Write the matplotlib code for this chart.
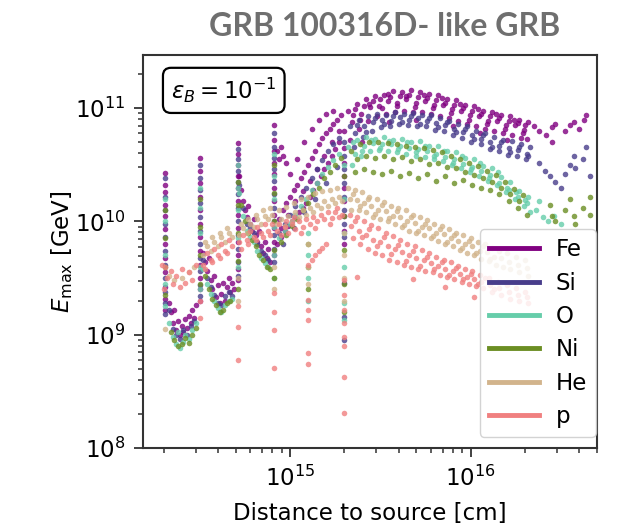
import matplotlib
matplotlib.use("Agg")
import matplotlib.pyplot as plt
from matplotlib.lines import Line2D
import numpy as np

# ---------------- data (log10 distance [cm], log10 Emax [GeV]) ----------------
SPECIES = ["Fe", "Si", "O", "Ni", "He", "p"]
COLORS = ["purple", "darkslateblue", "mediumaquamarine", "olivedrab", "tan", "lightcoral"]

SPIKE_LX = [14.31, 14.50, 14.71, 14.91, 15.10, 15.30]

FE_SPIKES = [
    [10.43, 10.32, 10.26, 10.15, 10.05, 9.93, 9.80, 9.68, 9.55, 9.42, 9.32, 9.22],
    [10.56, 10.45, 10.34, 10.22, 10.10, 9.98, 9.86, 9.74, 9.62, 9.50, 9.40, 9.30],
    [10.69, 10.60, 10.50, 10.40, 10.30, 10.18, 10.06, 9.94, 9.82, 9.70, 9.58, 9.48],
    [10.85, 10.72, 10.62, 10.52, 10.42, 10.30, 10.18, 10.06, 9.94, 9.82, 9.70],
    [],
    [10.80, 10.65, 10.52, 10.40, 10.30, 10.18, 10.05, 9.92, 9.80],
]
FE_PTS = [
    (14.33, 9.28), (14.34, 9.20), (14.35, 9.10), (14.36, 9.22), (14.37, 9.04), (14.38, 9.12),
    (14.39, 9.00), (14.40, 9.08), (14.41, 9.02), (14.42, 9.14), (14.43, 9.06), (14.44, 9.17),
    (14.45, 9.10), (14.46, 9.22), (14.47, 9.15), (14.48, 9.26),
    (14.52, 9.72), (14.53, 9.64), (14.54, 9.56), (14.55, 9.68), (14.56, 9.48), (14.57, 9.40),
    (14.58, 9.52), (14.59, 9.33), (14.60, 9.44), (14.61, 9.28), (14.62, 9.36), (14.63, 9.46),
    (14.64, 9.30), (14.65, 9.42), (14.66, 9.50), (14.67, 9.38), (14.68, 9.46), (14.69, 9.40),
    (14.72, 10.40), (14.73, 10.28), (14.74, 10.18), (14.75, 10.10), (14.76, 10.04), (14.77, 10.14),
    (14.78, 9.98), (14.79, 9.92), (14.80, 10.02), (14.81, 9.88), (14.82, 9.82), (14.83, 9.92),
    (14.84, 9.78), (14.85, 9.72), (14.86, 9.82), (14.87, 9.68), (14.88, 9.76), (14.89, 9.64),
    (14.93, 10.62), (14.94, 10.55), (14.95, 10.66), (14.96, 10.58), (14.98, 10.52),
    (14.93, 9.80), (14.95, 9.86), (14.97, 9.92), (14.99, 9.96), (15.01, 10.00), (15.03, 10.04),
    (15.05, 10.08), (15.07, 10.12), (15.09, 10.16), (15.11, 10.22), (15.13, 10.28), (15.15, 10.34),
    (15.17, 10.40), (15.19, 10.46), (15.21, 10.52), (15.23, 10.58), (15.25, 10.64), (15.27, 10.70),
    (14.94, 10.02), (14.96, 10.10), (14.98, 10.16), (15.00, 10.22), (15.02, 10.28), (15.04, 10.32),
    (15.06, 10.38), (15.08, 10.44), (15.10, 10.50), (15.12, 10.56), (15.14, 10.62), (15.16, 10.68),
    (15.18, 10.74), (15.20, 10.78), (15.22, 10.82), (15.24, 10.86), (15.26, 10.90), (15.28, 10.94),
    (15.00, 10.42), (15.04, 10.55), (15.08, 10.70), (15.12, 10.82), (15.16, 10.90), (15.20, 10.95),
    (15.24, 10.98),
    (14.95, 9.94), (14.99, 10.06), (15.03, 10.18), (15.07, 10.27), (15.11, 10.36), (15.15, 10.46),
    (15.19, 10.58), (15.23, 10.70), (15.27, 10.80),
    (15.32, 10.98), (15.37, 11.04), (15.42, 11.08), (15.47, 11.11), (15.52, 11.12), (15.57, 11.15),
    (15.62, 11.14), (15.67, 11.16), (15.72, 11.14), (15.77, 11.13), (15.82, 11.12), (15.87, 11.08),
    (15.92, 11.07), (15.97, 11.03), (16.02, 11.02), (16.07, 10.98), (16.12, 10.97), (16.17, 10.94),
    (16.22, 10.93), (16.27, 10.90), (16.32, 10.88),
    (15.35, 10.94), (15.41, 11.02), (15.46, 11.06), (15.50, 11.08), (15.555, 11.10), (15.61, 11.11),
    (15.66, 11.12), (15.71, 11.10), (15.76, 11.09), (15.81, 11.07), (15.86, 11.05), (15.91, 11.03),
    (15.96, 11.00), (16.01, 10.98), (16.06, 10.95), (16.11, 10.93), (16.16, 10.91), (16.21, 10.89),
    (16.26, 10.87), (16.30, 10.85),
    (15.345, 10.88), (15.395, 10.95), (15.445, 11.01), (15.495, 11.02), (15.545, 11.06), (15.595, 11.05),
    (15.645, 11.08), (15.695, 11.05), (15.745, 11.06), (15.795, 11.03), (15.845, 11.03), (15.895, 10.99),
    (15.945, 10.98), (15.995, 10.94), (16.045, 10.93), (16.095, 10.89), (16.145, 10.89), (16.195, 10.85),
    (16.245, 10.85), (16.295, 10.81),
    (15.33, 10.72), (15.38, 10.82), (15.43, 10.89), (15.48, 10.93), (15.53, 10.95), (15.58, 10.97),
    (15.63, 10.98), (15.68, 10.97), (15.73, 10.97), (15.78, 10.95), (15.83, 10.93), (15.88, 10.91),
    (15.93, 10.89), (15.98, 10.86), (16.03, 10.84), (16.08, 10.82), (16.13, 10.80), (16.18, 10.78),
    (16.23, 10.76), (16.28, 10.74), (16.31, 10.73),
    (15.36, 10.99), (15.39, 10.90), (15.44, 11.04), (15.51, 11.00), (15.54, 11.13), (15.59, 11.02),
    (15.64, 11.11), (15.69, 11.01), (15.74, 11.12), (15.79, 11.00), (15.84, 11.09), (15.89, 10.96),
    (15.94, 11.04), (15.99, 10.90), (16.04, 10.99), (16.09, 10.86), (16.14, 10.95), (16.19, 10.82),
    (16.24, 10.90), (16.29, 10.78),
    (15.40, 10.70), (15.55, 10.88), (15.70, 10.90), (15.90, 10.84), (16.05, 10.78), (16.20, 10.72),
    (16.35, 10.84), (16.38, 10.80), (16.42, 10.76), (16.45, 10.83), (16.47, 10.86), (16.52, 10.80),
    (16.55, 10.85), (16.57, 10.88), (16.60, 10.82), (16.63, 10.90), (16.64, 10.94), (16.45, 10.70),
]

SI_SPIKES = [
    [10.38, 10.22, 10.10, 9.98, 9.86, 9.74, 9.62, 9.50, 9.38, 9.28, 9.18],
    [10.50, 10.38, 10.28, 10.16, 10.04, 9.92, 9.80, 9.68, 9.56, 9.44, 9.34],
    [10.64, 10.55, 10.45, 10.35, 10.24, 10.12, 10.00, 9.88, 9.76, 9.64, 9.52],
    [10.78, 10.66, 10.56, 10.46, 10.36, 10.24, 10.12, 10.00, 9.88, 9.76, 9.64],
    [],
    [10.70, 10.58, 10.46, 10.34, 10.22, 10.10, 9.98, 9.86, 9.46, 9.16, 8.95],
]
SI_PTS = [
    (14.33, 9.22), (14.35, 9.05), (14.37, 9.00), (14.39, 8.96), (14.41, 9.04), (14.43, 9.00),
    (14.45, 9.08), (14.47, 9.12),
    (14.52, 9.66), (14.54, 9.50), (14.56, 9.42), (14.58, 9.35), (14.60, 9.28), (14.62, 9.26),
    (14.64, 9.34), (14.66, 9.38), (14.68, 9.34),
    (14.72, 10.32), (14.74, 10.12), (14.76, 9.98), (14.78, 9.94), (14.80, 9.90), (14.82, 9.80),
    (14.84, 9.74), (14.86, 9.70), (14.88, 9.66),
    (14.94, 9.90), (14.97, 9.98), (15.00, 10.06), (15.03, 10.14), (15.06, 10.22), (15.09, 10.30),
    (15.12, 10.38), (15.15, 10.46), (15.18, 10.54), (15.21, 10.62), (15.24, 10.68), (15.27, 10.74),
    (14.96, 9.80), (15.02, 9.94), (15.08, 10.08), (15.14, 10.20), (15.20, 10.34), (15.26, 10.48),
    (15.33, 10.84), (15.38, 10.90), (15.43, 10.93), (15.48, 10.95), (15.53, 10.94), (15.58, 10.97),
    (15.63, 10.95), (15.68, 10.96), (15.73, 10.94), (15.78, 10.94), (15.83, 10.91), (15.88, 10.89),
    (15.93, 10.86), (15.98, 10.84), (16.03, 10.80), (16.08, 10.78), (16.13, 10.75), (16.18, 10.72),
    (16.23, 10.71), (16.28, 10.68), (16.33, 10.66),
    (15.36, 10.78), (15.41, 10.84), (15.46, 10.88), (15.51, 10.90), (15.56, 10.89), (15.61, 10.92),
    (15.66, 10.90), (15.71, 10.91), (15.76, 10.89), (15.81, 10.87), (15.86, 10.85), (15.91, 10.82),
    (15.96, 10.79), (16.01, 10.76), (16.06, 10.73), (16.11, 10.70), (16.16, 10.67), (16.21, 10.65),
    (16.26, 10.63), (16.31, 10.60),
    (15.355, 10.66), (15.405, 10.75), (15.455, 10.80), (15.505, 10.83), (15.555, 10.84), (15.605, 10.86),
    (15.655, 10.85), (15.705, 10.84), (15.755, 10.84), (15.805, 10.81), (15.855, 10.80), (15.905, 10.76),
    (15.955, 10.74), (16.005, 10.70), (16.055, 10.68), (16.105, 10.64), (16.155, 10.62), (16.205, 10.59),
    (16.255, 10.58), (16.305, 10.55),
    (15.37, 10.85), (15.42, 10.79), (15.47, 10.91), (15.52, 10.86), (15.57, 10.93), (15.62, 10.88),
    (15.67, 10.93), (15.72, 10.86), (15.77, 10.91), (15.82, 10.83), (15.87, 10.88), (15.92, 10.79),
    (15.97, 10.82), (16.02, 10.73), (16.07, 10.76), (16.12, 10.66), (16.17, 10.70), (16.22, 10.61),
    (16.27, 10.66), (16.32, 10.58),
    (16.38, 10.52), (16.41, 10.45), (16.44, 10.40), (16.47, 10.35), (16.50, 10.30), (16.52, 10.42),
    (16.55, 10.50), (16.57, 10.58), (16.58, 10.47), (16.62, 10.55), (16.64, 10.66), (16.66, 10.40),
]

O_SPIKES = [
    [10.20, 10.00, 9.70, 9.45, 9.25],
    [10.30, 10.12, 9.90, 9.60, 9.40],
    [10.50, 10.30, 10.10, 9.85, 9.60],
    [10.60, 10.40, 10.20, 9.95, 9.70, 9.50],
    [9.90, 9.70, 9.50, 9.30],
    [10.50, 10.20, 9.90, 9.60, 9.28, 9.13],
]
O_PTS = [
    (14.33, 9.10), (14.35, 8.98), (14.37, 8.92), (14.38, 9.02), (14.39, 8.88), (14.41, 8.94),
    (14.42, 9.00), (14.44, 8.96), (14.46, 9.04), (14.48, 9.10),
    (14.52, 9.58), (14.54, 9.45), (14.56, 9.36), (14.58, 9.30), (14.60, 9.24), (14.62, 9.20),
    (14.64, 9.26), (14.66, 9.30), (14.68, 9.32),
    (14.72, 10.25), (14.74, 10.05), (14.76, 9.92), (14.78, 9.86), (14.80, 9.82), (14.82, 9.74),
    (14.84, 9.68), (14.86, 9.63), (14.88, 9.60),
    (14.94, 9.85), (14.97, 9.92), (15.00, 9.98), (15.03, 10.06), (15.06, 10.14), (15.09, 10.20),
    (15.12, 10.28), (15.15, 10.34), (15.18, 10.42), (15.21, 10.48), (15.24, 10.54), (15.27, 10.60),
    (15.32, 10.66), (15.37, 10.72), (15.42, 10.75), (15.47, 10.73), (15.52, 10.75), (15.57, 10.72),
    (15.62, 10.73), (15.67, 10.70), (15.72, 10.71), (15.77, 10.67), (15.82, 10.67), (15.87, 10.62),
    (15.92, 10.61), (15.97, 10.56), (16.02, 10.55), (16.07, 10.49), (16.12, 10.47), (16.17, 10.39),
    (16.22, 10.35), (16.27, 10.27), (16.32, 10.22),
    (15.36, 10.60), (15.41, 10.67), (15.46, 10.69), (15.51, 10.68), (15.56, 10.68), (15.61, 10.67),
    (15.66, 10.65), (15.71, 10.64), (15.76, 10.62), (15.81, 10.60), (15.86, 10.57), (15.91, 10.55),
    (15.96, 10.51), (16.01, 10.48), (16.06, 10.45), (16.11, 10.41), (16.16, 10.34), (16.21, 10.28),
    (16.26, 10.22), (16.31, 10.16),
    (15.345, 10.50), (15.395, 10.58), (15.445, 10.62), (15.495, 10.63), (15.545, 10.62), (15.595, 10.61),
    (15.645, 10.60), (15.695, 10.58), (15.745, 10.57), (15.795, 10.55), (15.845, 10.53), (15.895, 10.50),
    (15.945, 10.47), (15.995, 10.44), (16.045, 10.40), (16.095, 10.36), (16.145, 10.32), (16.195, 10.26),
    (16.245, 10.20), (16.295, 10.14), (16.33, 10.08),
    (15.35, 10.70), (15.40, 10.62), (15.45, 10.72), (15.50, 10.65), (15.55, 10.71), (15.60, 10.64),
    (15.65, 10.70), (15.70, 10.61), (15.75, 10.67), (15.80, 10.58), (15.85, 10.62), (15.90, 10.52),
    (15.95, 10.58), (16.00, 10.46), (16.05, 10.52), (16.10, 10.38), (16.15, 10.44), (16.20, 10.30),
    (16.25, 10.26), (16.30, 10.19),
    (16.36, 10.10), (16.40, 10.04), (16.43, 10.00), (16.46, 10.05), (16.50, 9.98), (16.38, 10.18),
]

NI_SPIKES = [
    [10.10, 9.85, 9.60, 9.35],
    [10.20, 9.95, 9.70, 9.45],
    [10.35, 10.15, 9.90, 9.65, 9.40],
    [10.50, 10.25, 10.00, 9.75, 9.50],
    [9.80, 9.60, 9.40],
    [10.40, 10.05, 9.75, 9.45, 9.20],
]
NI_PTS = [
    (14.34, 9.02), (14.36, 8.95), (14.38, 8.90), (14.40, 8.92), (14.42, 8.97), (14.44, 8.93),
    (14.46, 9.00), (14.48, 9.06),
    (14.53, 9.52), (14.55, 9.40), (14.57, 9.32), (14.59, 9.26), (14.61, 9.20), (14.63, 9.22),
    (14.65, 9.28), (14.67, 9.30),
    (14.73, 10.15), (14.75, 10.00), (14.77, 9.90), (14.79, 9.84), (14.81, 9.78), (14.83, 9.70),
    (14.85, 9.66), (14.87, 9.60), (14.89, 9.58),
    (14.95, 9.82), (14.98, 9.88), (15.01, 9.96), (15.04, 10.02), (15.07, 10.10), (15.10, 10.16),
    (15.13, 10.24), (15.16, 10.30), (15.19, 10.38), (15.22, 10.44), (15.25, 10.50), (15.28, 10.56),
    (15.34, 10.62), (15.39, 10.68), (15.44, 10.70), (15.49, 10.70), (15.54, 10.69), (15.59, 10.68),
    (15.64, 10.67), (15.69, 10.66), (15.74, 10.65), (15.79, 10.63), (15.84, 10.61), (15.89, 10.58),
    (15.94, 10.55), (15.99, 10.52), (16.04, 10.49), (16.09, 10.45), (16.14, 10.41), (16.19, 10.35),
    (16.24, 10.29), (16.29, 10.23),
    (15.37, 10.55), (15.42, 10.58), (15.47, 10.56), (15.52, 10.58), (15.57, 10.55), (15.62, 10.57),
    (15.67, 10.53), (15.72, 10.55), (15.77, 10.51), (15.82, 10.52), (15.87, 10.48), (15.92, 10.47),
    (15.97, 10.44), (16.02, 10.41), (16.07, 10.38), (16.12, 10.35), (16.17, 10.30), (16.22, 10.24),
    (16.27, 10.18),
    (15.36, 10.44), (15.41, 10.46), (15.46, 10.44), (15.51, 10.42), (15.56, 10.45), (15.61, 10.40),
    (15.66, 10.43), (15.71, 10.38), (15.76, 10.42), (15.81, 10.36), (15.86, 10.40), (15.91, 10.34),
    (15.96, 10.37), (16.01, 10.32), (16.06, 10.30), (16.11, 10.28), (16.16, 10.24), (16.21, 10.18),
    (16.26, 10.12), (16.31, 10.06),
    (16.44, 10.15), (16.45, 10.05), (16.47, 10.00), (16.52, 10.10), (16.55, 10.20), (16.57, 10.05),
    (16.58, 9.98), (16.62, 10.12), (16.66, 10.22), (16.66, 10.06),
]

HE_SPIKES = [
    [9.05],
    [],
    [9.50, 9.30],
    [9.60, 9.40],
    [9.80, 9.60, 9.45],
    [9.90, 9.70, 9.50, 9.30],
]
HE_PTS = [
    (14.33, 9.52), (14.36, 9.48), (14.40, 9.50), (14.44, 9.55), (14.47, 9.60),
    (14.52, 9.70), (14.54, 9.78), (14.56, 9.74), (14.58, 9.82), (14.60, 9.78), (14.62, 9.86),
    (14.64, 9.82), (14.66, 9.90), (14.68, 9.86),
    (14.72, 9.88), (14.74, 9.94), (14.76, 9.90), (14.78, 9.98), (14.80, 9.95), (14.82, 10.02),
    (14.84, 9.98), (14.86, 10.05), (14.88, 10.02), (14.90, 10.06),
    (14.93, 9.98), (14.95, 10.02), (14.97, 9.96), (14.99, 10.05), (15.01, 10.00), (15.03, 10.08),
    (15.05, 10.04), (15.07, 10.10), (15.09, 10.06), (15.11, 10.12), (15.13, 10.08), (15.15, 10.15),
    (15.17, 10.12), (15.19, 10.18), (15.21, 10.14), (15.23, 10.20), (15.25, 10.16), (15.27, 10.22),
    (15.29, 10.18),
    (14.53, 9.82), (14.57, 9.86), (14.61, 9.90), (14.65, 9.94), (14.73, 9.98), (14.77, 10.02),
    (14.81, 10.06), (14.85, 10.10), (14.89, 10.12), (14.94, 10.10), (14.98, 10.13), (15.02, 10.16),
    (15.06, 10.20), (15.10, 10.22), (15.14, 10.25), (15.18, 10.27), (15.22, 10.28), (15.26, 10.30),
    (15.32, 10.30), (15.36, 10.28), (15.40, 10.26), (15.44, 10.22), (15.48, 10.20), (15.52, 10.17),
    (15.56, 10.14), (15.60, 10.12), (15.64, 10.10), (15.68, 10.06), (15.72, 10.04), (15.76, 10.01),
    (15.80, 9.98), (15.84, 9.96), (15.88, 9.93), (15.92, 9.90), (15.96, 9.88), (16.00, 9.85),
    (16.04, 9.82), (16.08, 9.80), (16.12, 9.77), (16.16, 9.74), (16.20, 9.72), (16.25, 9.69),
    (16.30, 9.66),
    (15.33, 10.20), (15.37, 10.19), (15.41, 10.16), (15.45, 10.14), (15.49, 10.10), (15.53, 10.09),
    (15.57, 10.05), (15.61, 10.04), (15.65, 10.00), (15.69, 9.99), (15.73, 9.95), (15.77, 9.94),
    (15.81, 9.90), (15.85, 9.89), (15.89, 9.85), (15.93, 9.83), (15.97, 9.80), (16.01, 9.78),
    (16.05, 9.74), (16.09, 9.73), (16.13, 9.69), (16.17, 9.68), (16.21, 9.64), (16.26, 9.62),
    (16.31, 9.59),
    (15.34, 10.10), (15.38, 10.10), (15.42, 10.08), (15.46, 10.04), (15.50, 10.02), (15.54, 10.00),
    (15.58, 9.98), (15.62, 9.95), (15.66, 9.92), (15.70, 9.90), (15.74, 9.88), (15.78, 9.85),
    (15.82, 9.83), (15.86, 9.80), (15.90, 9.78), (15.94, 9.75), (15.98, 9.72), (16.02, 9.70),
    (16.06, 9.67), (16.10, 9.65), (16.14, 9.62), (16.18, 9.60), (16.22, 9.58), (16.27, 9.55),
    (16.32, 9.52),
    (15.35, 10.24), (15.39, 10.14), (15.43, 10.20), (15.47, 10.07), (15.51, 10.15), (15.55, 10.03),
    (15.59, 10.09), (15.63, 9.97), (15.67, 10.04), (15.71, 9.92), (15.75, 9.98), (15.79, 9.87),
    (15.83, 9.93), (15.87, 9.82), (15.91, 9.88), (15.95, 9.77), (15.99, 9.83), (16.03, 9.72),
    (16.07, 9.78), (16.11, 9.67),
]

P_SPIKES = [
    [],
    [9.30, 9.15],
    [9.25, 9.07, 8.78],
    [9.37, 9.20, 9.04, 8.71],
    [9.31, 9.22, 9.13, 8.84, 8.74],
    [9.48, 9.35, 9.22, 9.10, 8.98, 8.90, 8.63, 8.31],
]
P_PTS = [
    (14.29, 9.62), (14.30, 9.40), (14.31, 9.60), (14.32, 9.50), (14.34, 9.56), (14.35, 9.45),
    (14.37, 9.52), (14.39, 9.42), (14.40, 9.58), (14.42, 9.46), (14.44, 9.55), (14.46, 9.48),
    (14.48, 9.62),
    (14.52, 9.62), (14.54, 9.72), (14.56, 9.66), (14.58, 9.76), (14.60, 9.70), (14.62, 9.80),
    (14.64, 9.74), (14.66, 9.84), (14.68, 9.78),
    (14.72, 9.82), (14.74, 9.88), (14.76, 9.84), (14.78, 9.92), (14.80, 9.86), (14.82, 9.95),
    (14.84, 9.90), (14.86, 9.98), (14.88, 9.92), (14.90, 9.98),
    (14.93, 9.92), (14.95, 9.88), (14.97, 9.95), (14.99, 9.90), (15.01, 9.98), (15.03, 9.93),
    (15.05, 10.00), (15.07, 9.95), (15.09, 10.02), (15.11, 9.98), (15.13, 10.04), (15.15, 10.00),
    (15.17, 10.06), (15.19, 10.02), (15.21, 10.08), (15.23, 10.03), (15.25, 10.08), (15.27, 10.04),
    (15.29, 10.06),
    (14.53, 9.58), (14.57, 9.64), (14.61, 9.68), (14.65, 9.72), (14.73, 9.76), (14.77, 9.80),
    (14.81, 9.84), (14.85, 9.86), (14.89, 9.88), (14.94, 9.98), (14.98, 10.00), (15.02, 10.04),
    (15.06, 9.90), (15.14, 9.94), (15.22, 9.98), (15.26, 10.12),
    (15.10, 9.62), (15.12, 9.66), (15.14, 9.70), (15.16, 9.74), (15.18, 9.77), (15.20, 9.80),
    (15.33, 10.06), (15.37, 10.04), (15.41, 10.00), (15.45, 9.97), (15.49, 9.94), (15.53, 9.90),
    (15.57, 9.87), (15.61, 9.84), (15.65, 9.80), (15.69, 9.78), (15.73, 9.75), (15.77, 9.72),
    (15.81, 9.69), (15.85, 9.66), (15.89, 9.64), (15.93, 9.61), (15.97, 9.58), (16.01, 9.56),
    (16.05, 9.53), (16.10, 9.50), (16.15, 9.47), (16.20, 9.44), (16.25, 9.41), (16.30, 9.38),
    (15.34, 9.96), (15.38, 9.92), (15.42, 9.88), (15.46, 9.84), (15.50, 9.82), (15.54, 9.78),
    (15.58, 9.76), (15.62, 9.73), (15.66, 9.70), (15.70, 9.68), (15.74, 9.66), (15.78, 9.63),
    (15.82, 9.61), (15.86, 9.58), (15.90, 9.56), (15.94, 9.54), (15.98, 9.51), (16.02, 9.49),
    (16.06, 9.47), (16.11, 9.44), (16.16, 9.41), (16.21, 9.38), (16.26, 9.35), (16.31, 9.33),
    (15.35, 9.85), (15.39, 9.80), (15.43, 9.76), (15.47, 9.72), (15.51, 9.70), (15.55, 9.66),
    (15.59, 9.64), (15.63, 9.62), (15.67, 9.60), (15.71, 9.58), (15.75, 9.56), (15.79, 9.55),
    (15.83, 9.53), (15.87, 9.51), (15.91, 9.49), (15.95, 9.47), (15.99, 9.45), (16.03, 9.43),
    (16.07, 9.41), (16.12, 9.38), (16.17, 9.35), (16.22, 9.32), (16.27, 9.30), (16.32, 9.28),
    (15.36, 10.00), (15.40, 9.86), (15.44, 9.93), (15.48, 9.78), (15.52, 9.86), (15.56, 9.71),
    (15.60, 9.79), (15.64, 9.65), (15.68, 9.74), (15.72, 9.61), (15.76, 9.69), (15.80, 9.58),
    (15.84, 9.64), (15.88, 9.53), (15.92, 9.59), (15.96, 9.49), (16.00, 9.54), (16.04, 9.45),
    (16.08, 9.50), (16.13, 9.40),
    (15.37, 9.51), (15.68, 9.49), (15.86, 9.42), (16.02, 9.33),
]

ALL_SPIKES = [FE_SPIKES, SI_SPIKES, O_SPIKES, NI_SPIKES, HE_SPIKES, P_SPIKES]
ALL_PTS = [FE_PTS, SI_PTS, O_PTS, NI_PTS, HE_PTS, P_PTS]

# ---------------- figure ----------------
plt.rcParams['font.family'] = ['DejaVu Sans']
fig = plt.figure(figsize=(6.23, 5.30), dpi=100)
ax = fig.add_axes([0.2295, 0.1547, 0.7285, 0.7415])

for name, col, spikes, pts in zip(SPECIES, COLORS, ALL_SPIKES, ALL_PTS):
    lx = [p[0] for p in pts]
    ly = [p[1] for p in pts]
    for sx, sys_ in zip(SPIKE_LX, spikes):
        lx += [sx] * len(sys_)
        ly += list(sys_)
    ax.scatter(10 ** np.array(lx), 10 ** np.array(ly), s=16, color=col,
               linewidths=0, alpha=0.8, zorder=2)

ax.set_xscale('log')
ax.set_yscale('log')
ax.set_xlim(10 ** 14.186, 10 ** 16.699)
ax.set_ylim(1e8, 10 ** 11.47)

fs = 16.5
ax.tick_params(which='major', length=6.5, width=1.3, labelsize=fs, pad=6, color='#333333')
ax.tick_params(which='minor', length=3.6, width=1.1, color='#333333')
for sp in ax.spines.values():
    sp.set_linewidth(1.5)
    sp.set_color('#333333')

ax.set_xlabel('Distance to source [cm]', fontsize=fs, labelpad=8)
ax.set_ylabel(r'$E_{\rm max}$ [GeV]', fontsize=fs, labelpad=0)

ax.text(0.178, 0.91, r'$\varepsilon_B = 10^{-1}$', transform=ax.transAxes,
        ha='center', va='center', fontsize=fs,
        bbox=dict(boxstyle='round,pad=0.35', fc='white', ec='black', lw=1.6))

handles = [Line2D([0], [0], color=c, lw=3.5) for c in COLORS]
ax.legend(handles, SPECIES, loc='lower right', bbox_to_anchor=(0.998, 0.028),
          borderaxespad=0, fontsize=fs, handlelength=2.2, handletextpad=0.7,
          labelspacing=0.45, framealpha=0.85, edgecolor='#cccccc')

fig.text(0.618, 0.950, 'GRB 100316D- like GRB', ha='center', va='center',
         fontsize=23, fontweight='bold', color='#6f6f6f', family='Lato')

fig.savefig('out.png', dpi=100)
